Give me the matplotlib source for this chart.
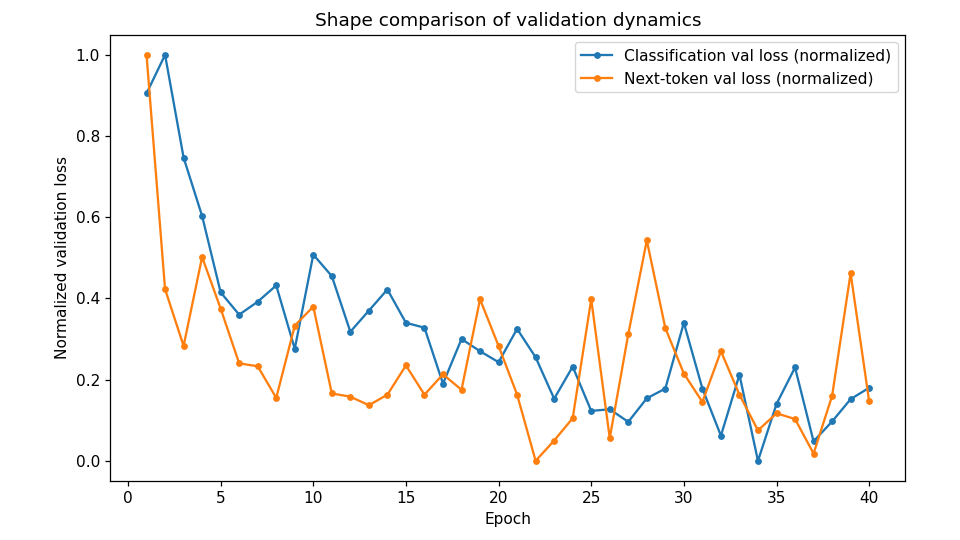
import matplotlib
matplotlib.use('Agg')
import matplotlib.pyplot as plt

epochs = list(range(1, 41))

cls_val = [0.905, 1.0, 0.747, 0.603, 0.415, 0.36, 0.392, 0.432, 0.276, 0.508,
           0.455, 0.318, 0.37, 0.422, 0.34, 0.328, 0.19, 0.30, 0.27, 0.243,
           0.325, 0.255, 0.153, 0.232, 0.123, 0.127, 0.096, 0.154, 0.178, 0.34,
           0.178, 0.062, 0.212, 0.0, 0.14, 0.23, 0.048, 0.097, 0.152, 0.18]

tok_val = [1.0, 0.423, 0.283, 0.502, 0.375, 0.24, 0.233, 0.155, 0.333, 0.38,
           0.166, 0.158, 0.137, 0.163, 0.235, 0.163, 0.213, 0.175, 0.398, 0.283,
           0.163, 0.0, 0.05, 0.105, 0.398, 0.056, 0.312, 0.543, 0.327, 0.215,
           0.145, 0.27, 0.163, 0.075, 0.117, 0.103, 0.018, 0.16, 0.462, 0.147]

# reference looks rendered at a slightly larger scale than the defaults
plt.rcParams['font.size'] = 11.1
plt.rcParams['axes.titlesize'] = 13.3
plt.rcParams['axes.linewidth'] = 0.9
plt.rcParams['xtick.major.width'] = 0.9
plt.rcParams['ytick.major.width'] = 0.9
plt.rcParams['xtick.major.size'] = 3.9
plt.rcParams['ytick.major.size'] = 3.9

fig = plt.figure(figsize=(9.6, 5.4), dpi=100)
ax = fig.add_subplot(111)
fig.subplots_adjust(left=0.115, right=0.943, top=0.936, bottom=0.109)

ax.plot(epochs, cls_val, marker='o', markersize=3.9, linewidth=1.65,
        label='Classification val loss (normalized)')
ax.plot(epochs, tok_val, marker='o', markersize=3.9, linewidth=1.65,
        label='Next-token val loss (normalized)')

ax.set_xlabel('Epoch')
ax.set_ylabel('Normalized validation loss')
ax.set_title('Shape comparison of validation dynamics')
ax.legend(loc='upper right')

fig.savefig('out.png', dpi=100)
